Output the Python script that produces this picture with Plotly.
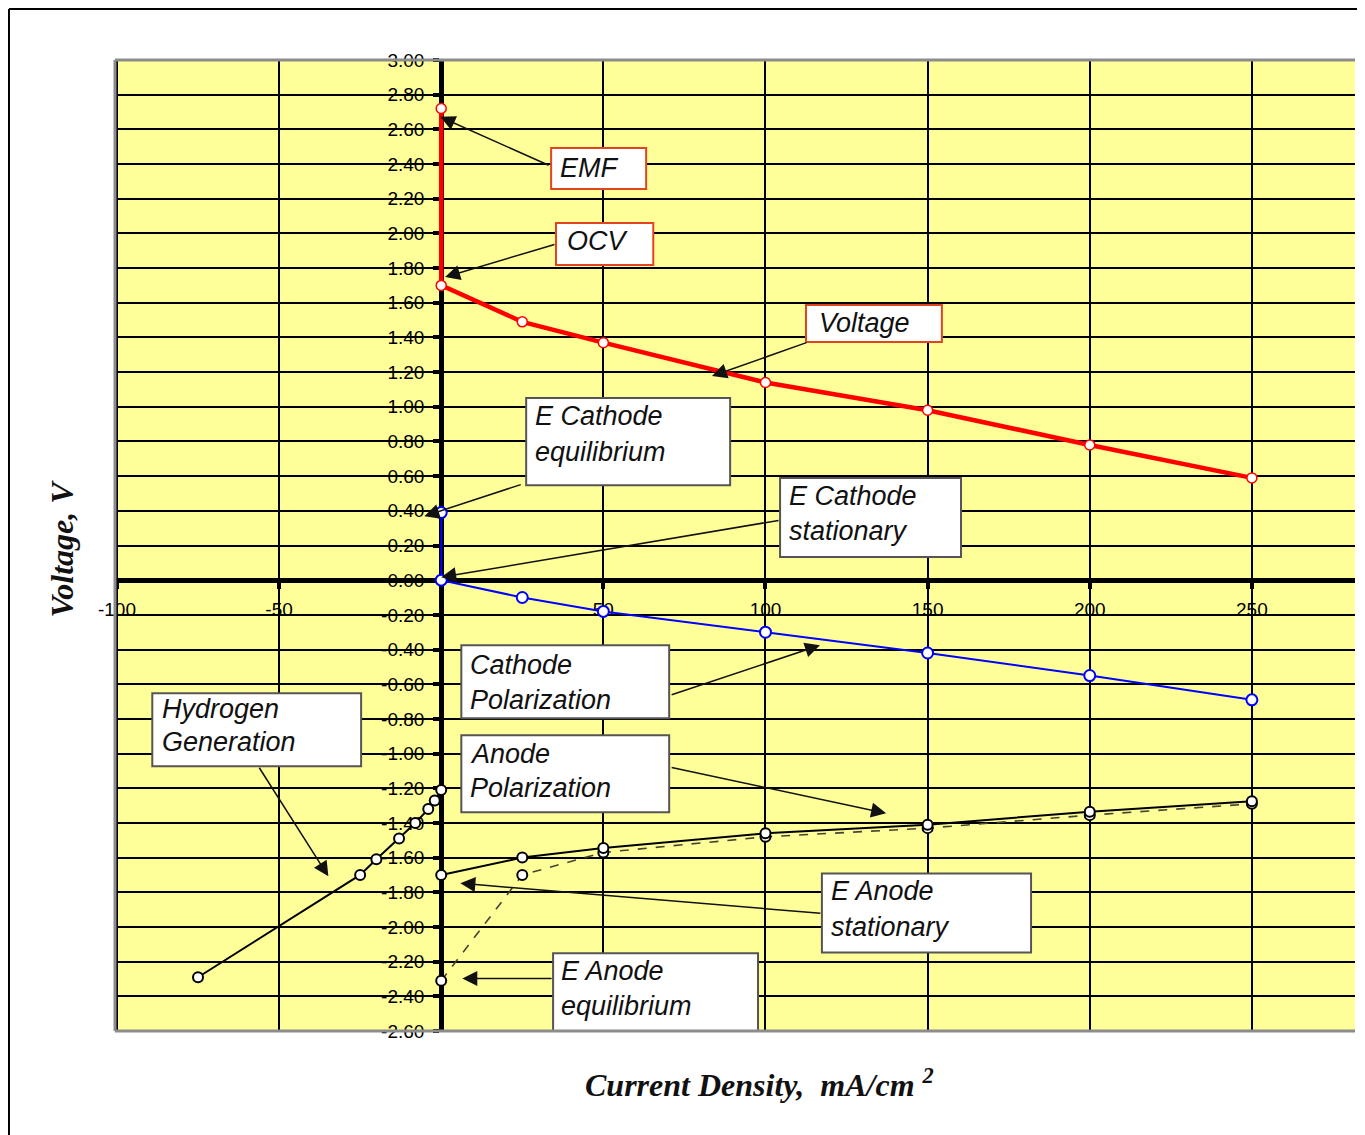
import plotly.graph_objects as go

# ---------------- data ----------------
voltage_x = [0, 0, 25, 50, 100, 150, 200, 250]
voltage_y = [2.72, 1.70, 1.49, 1.37, 1.14, 0.98, 0.78, 0.59]

cathode_x = [0, 0, 25, 50, 100, 150, 200, 250]
cathode_y = [0.39, 0.00, -0.10, -0.18, -0.30, -0.42, -0.55, -0.69]

anode_x = [0, 25, 50, 100, 150, 200, 250]
anode_y = [-1.70, -1.60, -1.545, -1.46, -1.41, -1.335, -1.275]

anode_eq_x = [0, 25, 50, 100, 150, 200, 250]
anode_eq_y = [-2.31, -1.70, -1.57, -1.48, -1.43, -1.355, -1.29]

hydrogen_x = [-75, -25, -20, -13, -8, -4, -2, 0]
hydrogen_y = [-2.29, -1.70, -1.61, -1.49, -1.40, -1.32, -1.27, -1.21]

x_tick_vals = [-100, -50, 50, 100, 150, 200, 250]
x_tick_text = ["-100", "-50", "50", "100", "150", "200", "250"]
y_tick_vals = [round(-2.6 + 0.2 * i, 2) for i in range(29)]
y_tick_text = ["%.2f" % v for v in y_tick_vals]

x_range = [-100.6, 281.8]
y_range = [-2.6, 3.0]

# ---------------- figure ----------------
fig = go.Figure()

def marker(color, size, lw):
    return dict(symbol="circle", size=size, color="white", line=dict(color=color, width=lw))

fig.add_trace(go.Scatter(x=hydrogen_x, y=hydrogen_y, mode="lines+markers",
                         line=dict(color="black", width=2), marker=marker("black", 10, 2),
                         name="Hydrogen Generation"))
fig.add_trace(go.Scatter(x=anode_eq_x, y=anode_eq_y, mode="lines+markers",
                         line=dict(color="#444433", width=1.6, dash="dash"), marker=marker("black", 10, 2),
                         name="E Anode equilibrium"))
fig.add_trace(go.Scatter(x=anode_x, y=anode_y, mode="lines+markers",
                         line=dict(color="black", width=2), marker=marker("black", 10, 2),
                         name="Anode Polarization"))
fig.add_trace(go.Scatter(x=cathode_x, y=cathode_y, mode="lines+markers",
                         line=dict(color="#0000FF", width=2), marker=marker("#0000FF", 11, 2),
                         name="Cathode Polarization"))
fig.add_trace(go.Scatter(x=voltage_x, y=voltage_y, mode="lines+markers",
                         line=dict(color="#FF0000", width=4.5), marker=marker("#FF0000", 10, 1.5),
                         name="Voltage"))

# callout boxes: (lines, x0, x1, y0, y1, text_x, line_ys, border, tail, head)
RED = "#E0451F"
GRAY = "#555555"
callouts = [
    (["EMF"], 33.9, 63.2, 2.256, 2.493, 36.1, [2.38], RED, (33.6, 2.389), (-0.3, 2.672)),
    (["OCV"], 35.4, 65.4, 1.818, 2.060, 38.2, [1.956], RED, (35.4, 1.939), (1.2, 1.748)),
    (["Voltage"], 112.5, 154.4, 1.373, 1.587, 115.9, [1.483], RED, (113.1, 1.373), (83.5, 1.177)),
    (["E Cathode", "equilibrium"], 26.2, 89.1, 0.548, 1.050, 28.4, [0.946, 0.739], GRAY,
     (25.0, 0.554), (-5.2, 0.369)),
    (["E Cathode", "stationary"], 104.5, 160.3, 0.133, 0.589, 106.7, [0.485, 0.283], GRAY,
     (104.5, 0.346), (0.0, 0.017)),
    (["Cathode", "Polarization"], 6.2, 70.3, -0.796, -0.375, 8.3, [-0.490, -0.692], GRAY,
     (70.6, -0.664), (116.8, -0.375)),
    (["Anode", "Polarization"], 6.2, 70.3, -1.339, -0.894, 8.3, [-1.004, -1.200], GRAY,
     (70.6, -1.079), (137.2, -1.344)),
    (["Hydrogen", "Generation"], -89.1, -24.7, -1.073, -0.652, -86.6, [-0.744, -0.935], GRAY,
     (-56.4, -1.073), (-34.8, -1.708)),
    (["E Anode", "stationary"], 117.4, 181.9, -2.147, -1.691, 119.6, [-1.795, -2.002], GRAY,
     (117.4, -1.922), (5.9, -1.748)),
    (["E Anode", "equilibrium"], 34.5, 97.7, -2.602, -2.152, 36.4, [-2.256, -2.458], GRAY,
     (34.5, -2.297), (6.5, -2.297)),
]

shapes = []
annotations = []
for lines, x0, x1, y0, y1, tx, lys, bc, tail, head in callouts:
    annotations.append(dict(x=head[0], y=head[1], ax=tail[0], ay=tail[1],
                            xref="x", yref="y", axref="x", ayref="y", text="",
                            showarrow=True, arrowhead=2, arrowsize=2, arrowwidth=1.5,
                            arrowcolor="#111111", standoff=0))
    shapes.append(dict(type="rect", xref="x", yref="y", x0=x0, x1=x1, y0=y0, y1=y1,
                       fillcolor="white", line=dict(color=bc, width=2), layer="above"))
    for ln, ly in zip(lines, lys):
        annotations.append(dict(x=tx, y=ly, xref="x", yref="y", text="<i>%s</i>" % ln,
                                showarrow=False, xanchor="left", yanchor="middle",
                                font=dict(family="Liberation Sans, Arial", size=27, color="#111111")))

# axis titles
annotations.append(dict(x=-0.0427, y=0.497, xref="paper", yref="paper",
                        xanchor="center", yanchor="middle",
                        text="<b><i>Voltage, V</i></b>", textangle=-90, showarrow=False,
                        font=dict(family="Liberation Serif, Times New Roman", size=32, color="#111111")))
annotations.append(dict(x=0.52, y=-0.0536, xref="paper", yref="paper",
                        xanchor="center", yanchor="middle",
                        text="<b><i>Current Density,\u00a0\u00a0mA/cm <sup>2</sup></i></b>", showarrow=False,
                        font=dict(family="Liberation Serif, Times New Roman", size=32, color="#111111")))

# plot-area grey border (top, left, bottom) and outer black frame
for (x0, y0, x1, y1) in [(0, 1, 1, 1), (0, 0, 0, 1), (0, 0, 1, 0)]:
    shapes.append(dict(type="line", xref="paper", yref="paper", x0=x0, y0=y0, x1=x1, y1=y1,
                       line=dict(color="#8C8C8C", width=3), layer="above"))
shapes.append(dict(type="line", xref="paper", yref="paper", x0=-0.0855, y0=-0.15, x1=-0.0855, y1=1.0525,
                   line=dict(color="black", width=2)))
shapes.append(dict(type="line", xref="paper", yref="paper", x0=-0.0855, y0=1.0525, x1=1.05, y1=1.0525,
                   line=dict(color="black", width=2)))

y_axis_pos = (0 - x_range[0]) / (x_range[1] - x_range[0])
x_axis_pos = (0 - y_range[0]) / (y_range[1] - y_range[0])

tick_font = dict(family="Liberation Sans, Arial", size=19, color="black")

fig.update_layout(
    width=1365, height=1135,
    margin=dict(l=107, r=18, t=52, b=112),
    paper_bgcolor="white", plot_bgcolor="#FFFF99",
    showlegend=False,
    shapes=shapes, annotations=annotations,
    xaxis=dict(range=x_range, tickmode="array", tickvals=x_tick_vals, ticktext=x_tick_text,
               showgrid=True, gridcolor="black", gridwidth=1.5, zeroline=False,
               showline=True, linecolor="black", linewidth=5,
               anchor="free", position=x_axis_pos, side="bottom",
               ticks="outside", ticklen=6, tickwidth=4, tickcolor="black",
               tickfont=tick_font, ticklabelstandoff=4, layer="below traces"),
    yaxis=dict(range=y_range, tickmode="array", tickvals=y_tick_vals, ticktext=y_tick_text,
               showgrid=True, gridcolor="black", gridwidth=1.5, zeroline=False,
               showline=True, linecolor="black", linewidth=5,
               anchor="free", position=y_axis_pos, side="left",
               ticks="outside", ticklen=6, tickwidth=4, tickcolor="black",
               tickfont=tick_font, ticklabelstandoff=5, layer="below traces"),
)

fig.write_html("out.html")
